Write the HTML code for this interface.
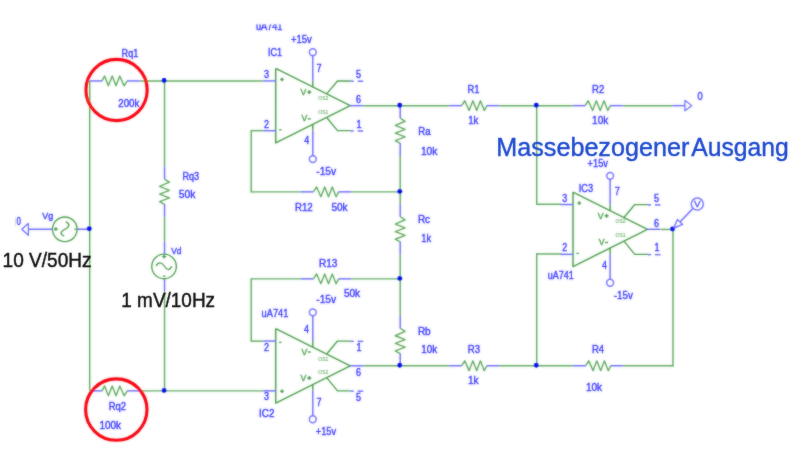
<!DOCTYPE html>
<html><head><meta charset="utf-8"><title>Schaltung</title>
<style>html,body{margin:0;padding:0;background:#fff}svg{display:block}</style></head>
<body>
<svg width="794" height="462" viewBox="0 0 794 462" font-family="Liberation Sans, Arial, sans-serif">
<rect width="794" height="462" fill="#fff"/>
<g filter="url(#bl)">
<g transform="translate(0.2,0.25)">
<line x1="89.5" y1="80.7" x2="89.5" y2="390.6" stroke="#5eaa5e" stroke-width="1.45"/>
<line x1="139.5" y1="80.7" x2="263" y2="80.7" stroke="#5eaa5e" stroke-width="1.45"/>
<line x1="139.5" y1="390.6" x2="263" y2="390.6" stroke="#5eaa5e" stroke-width="1.45"/>
<line x1="164.35" y1="80.7" x2="164.35" y2="166.4" stroke="#5eaa5e" stroke-width="1.45"/>
<line x1="164.35" y1="216.4" x2="164.35" y2="241.6" stroke="#5eaa5e" stroke-width="1.45"/>
<line x1="164.35" y1="291" x2="164.35" y2="390.6" stroke="#5eaa5e" stroke-width="1.45"/>
<line x1="251" y1="130.4" x2="263" y2="130.4" stroke="#5eaa5e" stroke-width="1.45"/>
<line x1="251" y1="129.70000000000002" x2="251" y2="192.29999999999998" stroke="#5eaa5e" stroke-width="1.45"/>
<line x1="251" y1="191.6" x2="300.8" y2="191.6" stroke="#5eaa5e" stroke-width="1.45"/>
<line x1="350.8" y1="191.6" x2="400" y2="191.6" stroke="#5eaa5e" stroke-width="1.45"/>
<line x1="251" y1="340.9" x2="263" y2="340.9" stroke="#5eaa5e" stroke-width="1.45"/>
<line x1="251" y1="277.90000000000003" x2="251" y2="341.59999999999997" stroke="#5eaa5e" stroke-width="1.45"/>
<line x1="251" y1="278.6" x2="300.8" y2="278.6" stroke="#5eaa5e" stroke-width="1.45"/>
<line x1="350.8" y1="278.6" x2="400" y2="278.6" stroke="#5eaa5e" stroke-width="1.45"/>
<line x1="363" y1="105.4" x2="449" y2="105.4" stroke="#5eaa5e" stroke-width="1.45"/>
<line x1="499" y1="105.4" x2="572.5" y2="105.4" stroke="#5eaa5e" stroke-width="1.45"/>
<line x1="622.5" y1="105.4" x2="672" y2="105.4" stroke="#5eaa5e" stroke-width="1.45"/>
<line x1="363" y1="365.5" x2="449" y2="365.5" stroke="#5eaa5e" stroke-width="1.45"/>
<line x1="499" y1="365.5" x2="573" y2="365.5" stroke="#5eaa5e" stroke-width="1.45"/>
<line x1="623" y1="365.5" x2="673.2" y2="365.5" stroke="#5eaa5e" stroke-width="1.45"/>
<line x1="400" y1="155" x2="400" y2="204" stroke="#5eaa5e" stroke-width="1.45"/>
<line x1="400" y1="254" x2="400" y2="315.6" stroke="#5eaa5e" stroke-width="1.45"/>
<line x1="536.5" y1="105.4" x2="536.5" y2="204.7" stroke="#5eaa5e" stroke-width="1.45"/>
<line x1="536.5" y1="204" x2="561" y2="204" stroke="#5eaa5e" stroke-width="1.45"/>
<line x1="536.5" y1="253.0" x2="536.5" y2="365.5" stroke="#5eaa5e" stroke-width="1.45"/>
<line x1="536.5" y1="253.7" x2="561" y2="253.7" stroke="#5eaa5e" stroke-width="1.45"/>
<line x1="660.7" y1="229.2" x2="672.6" y2="229.2" stroke="#5eaa5e" stroke-width="1.45"/>
<line x1="672.8" y1="229.2" x2="672.8" y2="366.2" stroke="#5eaa5e" stroke-width="1.45"/>
<line x1="89.5" y1="80.7" x2="102.1" y2="80.7" stroke="#6a6aff" stroke-width="1.45"/>
<line x1="126.9" y1="80.7" x2="139.5" y2="80.7" stroke="#6a6aff" stroke-width="1.45"/>
<polyline points="101.8,80.7 104.4,75.8 108.2,85.6 112.0,75.8 115.8,85.6 119.6,75.8 123.9,85.6 127.1,80.7" stroke="#5eaa5e" stroke-width="1.4" fill="none" stroke-linejoin="round" />
<line x1="89.5" y1="390.6" x2="102.1" y2="390.6" stroke="#6a6aff" stroke-width="1.45"/>
<line x1="126.9" y1="390.6" x2="139.5" y2="390.6" stroke="#6a6aff" stroke-width="1.45"/>
<polyline points="101.8,390.6 104.4,385.7 108.2,395.5 112.0,385.7 115.8,395.5 119.6,385.7 123.9,395.5 127.1,390.6" stroke="#5eaa5e" stroke-width="1.4" fill="none" stroke-linejoin="round" />
<line x1="164.35" y1="166.4" x2="164.35" y2="179.0" stroke="#6a6aff" stroke-width="1.45"/>
<line x1="164.35" y1="203.8" x2="164.35" y2="216.4" stroke="#6a6aff" stroke-width="1.45"/>
<polyline points="164.3,178.8 169.2,181.9 159.4,186.2 169.2,190.1 159.4,193.8 169.2,197.7 159.4,201.4 164.3,204.1" stroke="#5eaa5e" stroke-width="1.4" fill="none" stroke-linejoin="round" />
<line x1="300.8" y1="191.6" x2="313.40000000000003" y2="191.6" stroke="#6a6aff" stroke-width="1.45"/>
<line x1="338.2" y1="191.6" x2="350.8" y2="191.6" stroke="#6a6aff" stroke-width="1.45"/>
<polyline points="313.2,191.6 316.4,186.7 320.7,196.5 324.5,186.7 328.3,196.5 332.1,186.7 335.9,196.5 338.5,191.6" stroke="#5eaa5e" stroke-width="1.4" fill="none" stroke-linejoin="round" />
<line x1="300.8" y1="278.6" x2="313.40000000000003" y2="278.6" stroke="#6a6aff" stroke-width="1.45"/>
<line x1="338.2" y1="278.6" x2="350.8" y2="278.6" stroke="#6a6aff" stroke-width="1.45"/>
<polyline points="313.2,278.6 316.4,273.7 320.7,283.5 324.5,273.7 328.3,283.5 332.1,273.7 335.9,283.5 338.5,278.6" stroke="#5eaa5e" stroke-width="1.4" fill="none" stroke-linejoin="round" />
<line x1="400" y1="105.4" x2="400" y2="118.0" stroke="#6a6aff" stroke-width="1.45"/>
<line x1="400" y1="142.8" x2="400" y2="155.4" stroke="#6a6aff" stroke-width="1.45"/>
<polyline points="400.0,117.8 404.9,121.0 395.1,125.2 404.9,129.1 395.1,132.8 404.9,136.7 395.1,140.4 400.0,143.1" stroke="#5eaa5e" stroke-width="1.4" fill="none" stroke-linejoin="round" />
<line x1="400" y1="204" x2="400" y2="216.6" stroke="#6a6aff" stroke-width="1.45"/>
<line x1="400" y1="241.4" x2="400" y2="254" stroke="#6a6aff" stroke-width="1.45"/>
<polyline points="400.0,216.3 404.9,219.5 395.1,223.8 404.9,227.7 395.1,231.4 404.9,235.2 395.1,239.0 400.0,241.7" stroke="#5eaa5e" stroke-width="1.4" fill="none" stroke-linejoin="round" />
<line x1="400" y1="315.6" x2="400" y2="328.20000000000005" stroke="#6a6aff" stroke-width="1.45"/>
<line x1="400" y1="353.0" x2="400" y2="365.6" stroke="#6a6aff" stroke-width="1.45"/>
<polyline points="400.0,328.0 404.9,331.2 395.1,335.5 404.9,339.3 395.1,343.1 404.9,346.9 395.1,350.7 400.0,353.3" stroke="#5eaa5e" stroke-width="1.4" fill="none" stroke-linejoin="round" />
<line x1="449" y1="105.4" x2="461.6" y2="105.4" stroke="#6a6aff" stroke-width="1.45"/>
<line x1="486.4" y1="105.4" x2="499" y2="105.4" stroke="#6a6aff" stroke-width="1.45"/>
<polyline points="461.4,105.4 464.6,100.5 468.9,110.3 472.7,100.5 476.5,110.3 480.2,100.5 484.1,110.3 486.7,105.4" stroke="#5eaa5e" stroke-width="1.4" fill="none" stroke-linejoin="round" />
<line x1="572.5" y1="105.4" x2="585.1" y2="105.4" stroke="#6a6aff" stroke-width="1.45"/>
<line x1="609.9" y1="105.4" x2="622.5" y2="105.4" stroke="#6a6aff" stroke-width="1.45"/>
<polyline points="584.9,105.4 588.1,100.5 592.4,110.3 596.1,100.5 600.0,110.3 603.8,100.5 607.6,110.3 610.1,105.4" stroke="#5eaa5e" stroke-width="1.4" fill="none" stroke-linejoin="round" />
<line x1="449" y1="365.5" x2="461.6" y2="365.5" stroke="#6a6aff" stroke-width="1.45"/>
<line x1="486.4" y1="365.5" x2="499" y2="365.5" stroke="#6a6aff" stroke-width="1.45"/>
<polyline points="461.4,365.5 464.6,360.6 468.9,370.4 472.7,360.6 476.5,370.4 480.2,360.6 484.1,370.4 486.7,365.5" stroke="#5eaa5e" stroke-width="1.4" fill="none" stroke-linejoin="round" />
<line x1="573" y1="365.5" x2="585.6" y2="365.5" stroke="#6a6aff" stroke-width="1.45"/>
<line x1="610.4" y1="365.5" x2="623" y2="365.5" stroke="#6a6aff" stroke-width="1.45"/>
<polyline points="585.4,365.5 588.6,360.6 592.9,370.4 596.6,360.6 600.5,370.4 604.2,360.6 608.1,370.4 610.6,365.5" stroke="#5eaa5e" stroke-width="1.4" fill="none" stroke-linejoin="round" />
<line x1="164.35" y1="241.6" x2="164.35" y2="254" stroke="#6a6aff" stroke-width="1.45"/>
<line x1="164.35" y1="278.4" x2="164.35" y2="291" stroke="#6a6aff" stroke-width="1.45"/>
<circle cx="163.85" cy="266.2" r="12.3" fill="none" stroke="#4c9e4c" stroke-width="1.35"/>
<path d="M156,265.6 C158,261.6 161.5,261.6 164.2,266 S169.5,270.5 171.5,266" fill="none" stroke="#4c9e4c" stroke-width="1.35"/>
<line x1="162.04999999999998" y1="256.4" x2="165.85" y2="256.4" stroke="#4c9e4c" stroke-width="1.4"/>
<line x1="163.95" y1="254.6" x2="163.95" y2="258.3" stroke="#4c9e4c" stroke-width="1.4"/>
<line x1="162.75" y1="275.9" x2="165.15" y2="275.9" stroke="#4c9e4c" stroke-width="1.3"/>
<line x1="28" y1="229" x2="52" y2="229" stroke="#6a6aff" stroke-width="1.45"/>
<line x1="76.6" y1="229" x2="89.5" y2="229" stroke="#6a6aff" stroke-width="1.45"/>
<circle cx="64.6" cy="229" r="12.3" fill="none" stroke="#4c9e4c" stroke-width="1.35"/>
<path d="M65.6,221.3 C69.8,223.3 69.8,226.5 64.8,229 S59.5,234 64,236" fill="none" stroke="#4c9e4c" stroke-width="1.35"/>
<line x1="53.8" y1="228.8" x2="57.6" y2="228.8" stroke="#4c9e4c" stroke-width="1.4"/>
<line x1="55.7" y1="226.9" x2="55.7" y2="230.7" stroke="#4c9e4c" stroke-width="1.4"/>
<line x1="74.2" y1="228.9" x2="76.2" y2="228.9" stroke="#4c9e4c" stroke-width="1.3"/>
<polyline points="28.2,223.0 21.6,229.0 28.2,235.0 28.2,223.0" stroke="#6a6aff" stroke-width="1.2" fill="none" stroke-linejoin="round" />
<line x1="672" y1="105.4" x2="684.7" y2="105.4" stroke="#6a6aff" stroke-width="1.45"/>
<polyline points="684.7,100.0 691.5,105.4 684.7,110.6 684.7,100.0" stroke="#6a6aff" stroke-width="1.2" fill="none" stroke-linejoin="round" />
<polyline points="275.5,68.2 350.0,105.4 275.5,142.7 275.5,68.2" stroke="#4c9e4c" stroke-width="1.5" fill="none" stroke-linejoin="round" />
<line x1="263.0" y1="80.65" x2="275.5" y2="80.65" stroke="#6a6aff" stroke-width="1.45"/>
<line x1="263.0" y1="130.45" x2="275.5" y2="130.45" stroke="#6a6aff" stroke-width="1.45"/>
<line x1="350.0" y1="105.4" x2="363.0" y2="105.4" stroke="#6a6aff" stroke-width="1.45"/>
<line x1="312.6" y1="55.35000000000001" x2="312.6" y2="80.55000000000001" stroke="#6a6aff" stroke-width="1.45"/>
<line x1="312.6" y1="80.55000000000001" x2="312.6" y2="86.95" stroke="#4c9e4c" stroke-width="1.45"/>
<line x1="312.6" y1="130.25" x2="312.6" y2="155.45000000000002" stroke="#6a6aff" stroke-width="1.45"/>
<line x1="312.6" y1="123.85000000000001" x2="312.6" y2="130.25" stroke="#4c9e4c" stroke-width="1.45"/>
<circle cx="312.6" cy="51.95" r="3.4" fill="#fff" stroke="#6a6aff" stroke-width="1.5"/>
<circle cx="312.6" cy="158.85" r="3.4" fill="#fff" stroke="#6a6aff" stroke-width="1.5"/>
<polyline points="326.7,93.4 337.3,80.7 350.5,80.7" stroke="#4c9e4c" stroke-width="1.35" fill="none" stroke-linejoin="round" />
<polyline points="326.7,117.5 337.3,130.4 350.5,130.4" stroke="#4c9e4c" stroke-width="1.35" fill="none" stroke-linejoin="round" />
<line x1="350.5" y1="80.95" x2="353.5" y2="80.95" stroke="#6a6aff" stroke-width="1.5"/>
<line x1="357.5" y1="80.95" x2="363.0" y2="80.95" stroke="#6a6aff" stroke-width="1.5"/>
<line x1="350.5" y1="130.75" x2="353.5" y2="130.75" stroke="#6a6aff" stroke-width="1.5"/>
<line x1="357.5" y1="130.75" x2="363.0" y2="130.75" stroke="#6a6aff" stroke-width="1.5"/>
<polyline points="275.5,328.3 350.0,365.6 275.5,402.8 275.5,328.3" stroke="#4c9e4c" stroke-width="1.5" fill="none" stroke-linejoin="round" />
<line x1="263.0" y1="340.8" x2="275.5" y2="340.8" stroke="#6a6aff" stroke-width="1.45"/>
<line x1="263.0" y1="390.6" x2="275.5" y2="390.6" stroke="#6a6aff" stroke-width="1.45"/>
<line x1="350.0" y1="365.55" x2="363.0" y2="365.55" stroke="#6a6aff" stroke-width="1.45"/>
<line x1="312.6" y1="315.5" x2="312.6" y2="340.7" stroke="#6a6aff" stroke-width="1.45"/>
<line x1="312.6" y1="340.7" x2="312.6" y2="347.1" stroke="#4c9e4c" stroke-width="1.45"/>
<line x1="312.6" y1="390.40000000000003" x2="312.6" y2="415.6" stroke="#6a6aff" stroke-width="1.45"/>
<line x1="312.6" y1="384.0" x2="312.6" y2="390.40000000000003" stroke="#4c9e4c" stroke-width="1.45"/>
<circle cx="312.6" cy="312.1" r="3.4" fill="#fff" stroke="#6a6aff" stroke-width="1.5"/>
<circle cx="312.6" cy="419.0" r="3.4" fill="#fff" stroke="#6a6aff" stroke-width="1.5"/>
<polyline points="326.7,353.5 337.3,340.8 350.5,340.8" stroke="#4c9e4c" stroke-width="1.35" fill="none" stroke-linejoin="round" />
<polyline points="326.7,377.6 337.3,390.6 350.5,390.6" stroke="#4c9e4c" stroke-width="1.35" fill="none" stroke-linejoin="round" />
<line x1="350.5" y1="341.1" x2="353.5" y2="341.1" stroke="#6a6aff" stroke-width="1.5"/>
<line x1="357.5" y1="341.1" x2="363.0" y2="341.1" stroke="#6a6aff" stroke-width="1.5"/>
<line x1="350.5" y1="390.90000000000003" x2="353.5" y2="390.90000000000003" stroke="#6a6aff" stroke-width="1.5"/>
<line x1="357.5" y1="390.90000000000003" x2="363.0" y2="390.90000000000003" stroke="#6a6aff" stroke-width="1.5"/>
<polyline points="572.8,191.8 647.3,229.1 572.8,266.3 572.8,191.8" stroke="#4c9e4c" stroke-width="1.5" fill="none" stroke-linejoin="round" />
<line x1="560.3" y1="204.3" x2="572.8" y2="204.3" stroke="#6a6aff" stroke-width="1.45"/>
<line x1="560.3" y1="254.10000000000002" x2="572.8" y2="254.10000000000002" stroke="#6a6aff" stroke-width="1.45"/>
<line x1="647.3" y1="229.05" x2="660.3" y2="229.05" stroke="#6a6aff" stroke-width="1.45"/>
<line x1="609.9" y1="179.0" x2="609.9" y2="204.20000000000002" stroke="#6a6aff" stroke-width="1.45"/>
<line x1="609.9" y1="204.20000000000002" x2="609.9" y2="210.60000000000002" stroke="#4c9e4c" stroke-width="1.45"/>
<line x1="609.9" y1="253.9" x2="609.9" y2="279.1" stroke="#6a6aff" stroke-width="1.45"/>
<line x1="609.9" y1="247.5" x2="609.9" y2="253.9" stroke="#4c9e4c" stroke-width="1.45"/>
<circle cx="609.9" cy="175.60000000000002" r="3.4" fill="#fff" stroke="#6a6aff" stroke-width="1.5"/>
<circle cx="609.9" cy="282.5" r="3.4" fill="#fff" stroke="#6a6aff" stroke-width="1.5"/>
<polyline points="624.0,217.0 634.6,204.3 647.8,204.3" stroke="#4c9e4c" stroke-width="1.35" fill="none" stroke-linejoin="round" />
<polyline points="624.0,241.1 634.6,254.1 647.8,254.1" stroke="#4c9e4c" stroke-width="1.35" fill="none" stroke-linejoin="round" />
<line x1="647.8" y1="204.60000000000002" x2="650.8" y2="204.60000000000002" stroke="#6a6aff" stroke-width="1.5"/>
<line x1="654.8" y1="204.60000000000002" x2="660.3" y2="204.60000000000002" stroke="#6a6aff" stroke-width="1.5"/>
<line x1="647.8" y1="254.40000000000003" x2="650.8" y2="254.40000000000003" stroke="#6a6aff" stroke-width="1.5"/>
<line x1="654.8" y1="254.40000000000003" x2="660.3" y2="254.40000000000003" stroke="#6a6aff" stroke-width="1.5"/>
</g>
<circle cx="164.1" cy="80.5" r="2.45" fill="#0000e8"/>
<circle cx="164.1" cy="390.40000000000003" r="2.45" fill="#0000e8"/>
<circle cx="89.25" cy="228.8" r="2.45" fill="#0000e8"/>
<circle cx="399.75" cy="105.2" r="2.45" fill="#0000e8"/>
<circle cx="399.75" cy="191.4" r="2.45" fill="#0000e8"/>
<circle cx="399.75" cy="278.40000000000003" r="2.45" fill="#0000e8"/>
<circle cx="399.75" cy="365.3" r="2.45" fill="#0000e8"/>
<circle cx="536.25" cy="105.2" r="2.45" fill="#0000e8"/>
<circle cx="536.25" cy="365.3" r="2.45" fill="#0000e8"/>
<circle cx="672.55" cy="229.0" r="2.45" fill="#0000e8"/>
<line x1="680" y1="222" x2="693.1" y2="208.3" stroke="#6a6aff" stroke-width="1.5"/>
<polyline points="673.8,228.0 677.4,219.6 682.6,224.4 673.8,228.0" stroke="#6a6aff" stroke-width="1.4" fill="#fff" stroke-linejoin="round" />
<circle cx="697.3" cy="204" r="6" fill="#fff" stroke="#6a6aff" stroke-width="1.5"/>
<text x="697.3" y="207.3" font-size="8.2" fill="#3a3aff" stroke="#3a3aff" stroke-width="0.4" text-anchor="middle" textLength="6.6" lengthAdjust="spacingAndGlyphs" >V</text>
<circle cx="116.6" cy="90" r="30.6" fill="none" stroke="#f8060e" stroke-width="3.1"/>
<circle cx="116.3" cy="409.6" r="30.7" fill="none" stroke="#f8060e" stroke-width="3.1"/>
<text x="121.6" y="56.9" font-size="10.3" fill="#3a3aff" stroke="#3a3aff" stroke-width="0.4" text-anchor="start" textLength="16.8" lengthAdjust="spacingAndGlyphs" >Rq1</text>
<text x="118.3" y="106.8" font-size="10.3" fill="#3a3aff" stroke="#3a3aff" stroke-width="0.4" text-anchor="start" textLength="21.1" lengthAdjust="spacingAndGlyphs" >200k</text>
<text x="108.7" y="410.2" font-size="10.3" fill="#3a3aff" stroke="#3a3aff" stroke-width="0.4" text-anchor="start" textLength="17.4" lengthAdjust="spacingAndGlyphs" >Rq2</text>
<text x="99.4" y="428.9" font-size="10.3" fill="#3a3aff" stroke="#3a3aff" stroke-width="0.4" text-anchor="start" textLength="21.7" lengthAdjust="spacingAndGlyphs" >100k</text>
<text x="182.5" y="179.5" font-size="10.3" fill="#3a3aff" stroke="#3a3aff" stroke-width="0.4" text-anchor="start" textLength="16.6" lengthAdjust="spacingAndGlyphs" >Rq3</text>
<text x="178.7" y="198.4" font-size="10.3" fill="#3a3aff" stroke="#3a3aff" stroke-width="0.4" text-anchor="start" textLength="16.6" lengthAdjust="spacingAndGlyphs" >50k</text>
<text x="294.9" y="210.5" font-size="10.3" fill="#3a3aff" stroke="#3a3aff" stroke-width="0.4" text-anchor="start" textLength="17.8" lengthAdjust="spacingAndGlyphs" >R12</text>
<text x="331.4" y="210.5" font-size="10.3" fill="#3a3aff" stroke="#3a3aff" stroke-width="0.4" text-anchor="start" textLength="16.1" lengthAdjust="spacingAndGlyphs" >50k</text>
<text x="318.9" y="266.5" font-size="10.3" fill="#3a3aff" stroke="#3a3aff" stroke-width="0.4" text-anchor="start" textLength="18.5" lengthAdjust="spacingAndGlyphs" >R13</text>
<text x="343.9" y="296.7" font-size="10.3" fill="#3a3aff" stroke="#3a3aff" stroke-width="0.4" text-anchor="start" textLength="16.2" lengthAdjust="spacingAndGlyphs" >50k</text>
<text x="418.3" y="135.3" font-size="10.3" fill="#3a3aff" stroke="#3a3aff" stroke-width="0.4" text-anchor="start" textLength="12.3" lengthAdjust="spacingAndGlyphs" >Ra</text>
<text x="420.9" y="155.0" font-size="10.3" fill="#3a3aff" stroke="#3a3aff" stroke-width="0.4" text-anchor="start" textLength="16.5" lengthAdjust="spacingAndGlyphs" >10k</text>
<text x="417.9" y="222.7" font-size="10.3" fill="#3a3aff" stroke="#3a3aff" stroke-width="0.4" text-anchor="start" textLength="12.2" lengthAdjust="spacingAndGlyphs" >Rc</text>
<text x="421.2" y="241.5" font-size="10.3" fill="#3a3aff" stroke="#3a3aff" stroke-width="0.4" text-anchor="start" textLength="9.9" lengthAdjust="spacingAndGlyphs" >1k</text>
<text x="417.9" y="334.5" font-size="10.3" fill="#3a3aff" stroke="#3a3aff" stroke-width="0.4" text-anchor="start" textLength="12.8" lengthAdjust="spacingAndGlyphs" >Rb</text>
<text x="421.2" y="352.9" font-size="10.3" fill="#3a3aff" stroke="#3a3aff" stroke-width="0.4" text-anchor="start" textLength="15.9" lengthAdjust="spacingAndGlyphs" >10k</text>
<text x="467.4" y="92.5" font-size="10.3" fill="#3a3aff" stroke="#3a3aff" stroke-width="0.4" text-anchor="start" textLength="12.0" lengthAdjust="spacingAndGlyphs" >R1</text>
<text x="468.2" y="123.5" font-size="10.3" fill="#3a3aff" stroke="#3a3aff" stroke-width="0.4" text-anchor="start" textLength="10.2" lengthAdjust="spacingAndGlyphs" >1k</text>
<text x="592.0" y="92.7" font-size="10.3" fill="#3a3aff" stroke="#3a3aff" stroke-width="0.4" text-anchor="start" textLength="12.2" lengthAdjust="spacingAndGlyphs" >R2</text>
<text x="592.1" y="123.8" font-size="10.3" fill="#3a3aff" stroke="#3a3aff" stroke-width="0.4" text-anchor="start" textLength="16.1" lengthAdjust="spacingAndGlyphs" >10k</text>
<text x="467.8" y="352.5" font-size="10.3" fill="#3a3aff" stroke="#3a3aff" stroke-width="0.4" text-anchor="start" textLength="12.3" lengthAdjust="spacingAndGlyphs" >R3</text>
<text x="467.9" y="383.5" font-size="10.3" fill="#3a3aff" stroke="#3a3aff" stroke-width="0.4" text-anchor="start" textLength="10.7" lengthAdjust="spacingAndGlyphs" >1k</text>
<text x="591.9" y="352.5" font-size="10.3" fill="#3a3aff" stroke="#3a3aff" stroke-width="0.4" text-anchor="start" textLength="12.2" lengthAdjust="spacingAndGlyphs" >R4</text>
<text x="585.9" y="390.5" font-size="10.3" fill="#3a3aff" stroke="#3a3aff" stroke-width="0.4" text-anchor="start" textLength="16.2" lengthAdjust="spacingAndGlyphs" >10k</text>
<text x="290.9" y="42.8" font-size="10.3" fill="#3a3aff" stroke="#3a3aff" stroke-width="0.4" text-anchor="start" textLength="20.8" lengthAdjust="spacingAndGlyphs" >+15v</text>
<text x="267.9" y="55.5" font-size="10.3" fill="#3a3aff" stroke="#3a3aff" stroke-width="0.4" text-anchor="start" textLength="14.1" lengthAdjust="spacingAndGlyphs" >IC1</text>
<text x="316.3" y="174.5" font-size="10.3" fill="#3a3aff" stroke="#3a3aff" stroke-width="0.4" text-anchor="start" textLength="19.8" lengthAdjust="spacingAndGlyphs" >-15v</text>
<text x="261.6" y="316.9" font-size="10.3" fill="#3a3aff" stroke="#3a3aff" stroke-width="0.4" text-anchor="start" textLength="26.7" lengthAdjust="spacingAndGlyphs" >uA741</text>
<text x="316.3" y="303.0" font-size="10.3" fill="#3a3aff" stroke="#3a3aff" stroke-width="0.4" text-anchor="start" textLength="19.8" lengthAdjust="spacingAndGlyphs" >-15v</text>
<text x="259.1" y="417.0" font-size="10.3" fill="#3a3aff" stroke="#3a3aff" stroke-width="0.4" text-anchor="start" textLength="15.3" lengthAdjust="spacingAndGlyphs" >IC2</text>
<text x="315.8" y="435.2" font-size="10.3" fill="#3a3aff" stroke="#3a3aff" stroke-width="0.4" text-anchor="start" textLength="20.3" lengthAdjust="spacingAndGlyphs" >+15v</text>
<text x="587.6" y="166.7" font-size="10.3" fill="#3a3aff" stroke="#3a3aff" stroke-width="0.4" text-anchor="start" textLength="20.4" lengthAdjust="spacingAndGlyphs" >+15v</text>
<text x="578.8" y="191.5" font-size="10.3" fill="#3a3aff" stroke="#3a3aff" stroke-width="0.4" text-anchor="start" textLength="14.3" lengthAdjust="spacingAndGlyphs" >IC3</text>
<text x="547.8" y="278.5" font-size="10.3" fill="#3a3aff" stroke="#3a3aff" stroke-width="0.4" text-anchor="start" textLength="26.1" lengthAdjust="spacingAndGlyphs" >uA741</text>
<text x="613.8" y="298.7" font-size="10.3" fill="#3a3aff" stroke="#3a3aff" stroke-width="0.4" text-anchor="start" textLength="19.0" lengthAdjust="spacingAndGlyphs" >-15v</text>
<text x="171.2" y="253.9" font-size="9.3" fill="#3a3aff" stroke="#3a3aff" stroke-width="0.4" text-anchor="start" textLength="10.3" lengthAdjust="spacingAndGlyphs" >Vd</text>
<text x="42.2" y="219.4" font-size="9.3" fill="#3a3aff" stroke="#3a3aff" stroke-width="0.4" text-anchor="start" textLength="10.9" lengthAdjust="spacingAndGlyphs" >Vg</text>
<text x="16.6" y="224.5" font-size="10" fill="#3a3aff" stroke="#3a3aff" stroke-width="0.4" text-anchor="start" textLength="4.4" lengthAdjust="spacingAndGlyphs" >0</text>
<text x="697.5" y="99.7" font-size="10.3" fill="#3a3aff" stroke="#3a3aff" stroke-width="0.4" text-anchor="start" textLength="5.2" lengthAdjust="spacingAndGlyphs" >0</text>
<line x1="15.8" y1="217.2" x2="15.3" y2="226.3" stroke="#d2d2d2" stroke-width="0.8"/>
<clipPath id="cut"><rect x="250" y="24.6" width="40" height="10"/></clipPath>
<text x="255.9" y="30.1" font-size="10.3" fill="#3a3aff" stroke="#3a3aff" stroke-width="0.4" text-anchor="start" textLength="26.6" lengthAdjust="spacingAndGlyphs" clip-path="url(#cut)">uA741</text>
<text x="264" y="78.2" font-size="10.0" fill="#3a3aff" stroke="#3a3aff" stroke-width="0.4" text-anchor="start" textLength="5.0" lengthAdjust="spacingAndGlyphs" >3</text>
<text x="264" y="127.9" font-size="10.0" fill="#3a3aff" stroke="#3a3aff" stroke-width="0.4" text-anchor="start" textLength="5.0" lengthAdjust="spacingAndGlyphs" >2</text>
<text x="316.6" y="72.4" font-size="10.0" fill="#3a3aff" stroke="#3a3aff" stroke-width="0.4" text-anchor="start" textLength="5.0" lengthAdjust="spacingAndGlyphs" >7</text>
<text x="304.3" y="144.3" font-size="10.0" fill="#3a3aff" stroke="#3a3aff" stroke-width="0.4" text-anchor="start" textLength="5.0" lengthAdjust="spacingAndGlyphs" >4</text>
<text x="356" y="77.9" font-size="10.0" fill="#3a3aff" stroke="#3a3aff" stroke-width="0.4" text-anchor="start" textLength="5.0" lengthAdjust="spacingAndGlyphs" >5</text>
<text x="356" y="102.6" font-size="10.0" fill="#3a3aff" stroke="#3a3aff" stroke-width="0.4" text-anchor="start" textLength="5.0" lengthAdjust="spacingAndGlyphs" >6</text>
<text x="356.6" y="127.9" font-size="10.0" fill="#3a3aff" stroke="#3a3aff" stroke-width="0.4" text-anchor="start" textLength="5.0" lengthAdjust="spacingAndGlyphs" >1</text>
<text x="304" y="332.9" font-size="10.0" fill="#3a3aff" stroke="#3a3aff" stroke-width="0.4" text-anchor="start" textLength="5.0" lengthAdjust="spacingAndGlyphs" >4</text>
<text x="264" y="351.1" font-size="10.0" fill="#3a3aff" stroke="#3a3aff" stroke-width="0.4" text-anchor="start" textLength="5.0" lengthAdjust="spacingAndGlyphs" >2</text>
<text x="264" y="400.2" font-size="10.0" fill="#3a3aff" stroke="#3a3aff" stroke-width="0.4" text-anchor="start" textLength="5.0" lengthAdjust="spacingAndGlyphs" >3</text>
<text x="356.6" y="351.0" font-size="10.0" fill="#3a3aff" stroke="#3a3aff" stroke-width="0.4" text-anchor="start" textLength="5.0" lengthAdjust="spacingAndGlyphs" >1</text>
<text x="356" y="375.5" font-size="10.0" fill="#3a3aff" stroke="#3a3aff" stroke-width="0.4" text-anchor="start" textLength="5.0" lengthAdjust="spacingAndGlyphs" >6</text>
<text x="356" y="400.8" font-size="10.0" fill="#3a3aff" stroke="#3a3aff" stroke-width="0.4" text-anchor="start" textLength="5.0" lengthAdjust="spacingAndGlyphs" >5</text>
<text x="316.6" y="406.3" font-size="10.0" fill="#3a3aff" stroke="#3a3aff" stroke-width="0.4" text-anchor="start" textLength="5.0" lengthAdjust="spacingAndGlyphs" >7</text>
<text x="562.2" y="201.6" font-size="10.0" fill="#3a3aff" stroke="#3a3aff" stroke-width="0.4" text-anchor="start" textLength="5.0" lengthAdjust="spacingAndGlyphs" >3</text>
<text x="562.2" y="251.0" font-size="10.0" fill="#3a3aff" stroke="#3a3aff" stroke-width="0.4" text-anchor="start" textLength="5.0" lengthAdjust="spacingAndGlyphs" >2</text>
<text x="614.8" y="195.2" font-size="10.0" fill="#3a3aff" stroke="#3a3aff" stroke-width="0.4" text-anchor="start" textLength="5.0" lengthAdjust="spacingAndGlyphs" >7</text>
<text x="602" y="269.1" font-size="10.0" fill="#3a3aff" stroke="#3a3aff" stroke-width="0.4" text-anchor="start" textLength="5.0" lengthAdjust="spacingAndGlyphs" >4</text>
<text x="654" y="201.6" font-size="10.0" fill="#3a3aff" stroke="#3a3aff" stroke-width="0.4" text-anchor="start" textLength="5.0" lengthAdjust="spacingAndGlyphs" >5</text>
<text x="654" y="226.9" font-size="10.0" fill="#3a3aff" stroke="#3a3aff" stroke-width="0.4" text-anchor="start" textLength="5.0" lengthAdjust="spacingAndGlyphs" >6</text>
<text x="654.6" y="251.0" font-size="10.0" fill="#3a3aff" stroke="#3a3aff" stroke-width="0.4" text-anchor="start" textLength="5.0" lengthAdjust="spacingAndGlyphs" >1</text>
<text x="300.5" y="95.45" font-size="9.4" fill="#4c9e4c" stroke="#4c9e4c" stroke-width="0.4" textLength="5.8" lengthAdjust="spacingAndGlyphs">V</text>
<line x1="307.3" y1="92.15" x2="311.3" y2="92.15" stroke="#4c9e4c" stroke-width="1.5"/>
<line x1="309.3" y1="90.15" x2="309.3" y2="94.15" stroke="#4c9e4c" stroke-width="1.5"/>
<text x="301.5" y="121.35000000000001" font-size="9.4" fill="#4c9e4c" stroke="#4c9e4c" stroke-width="0.4" textLength="5.8" lengthAdjust="spacingAndGlyphs">V</text>
<line x1="307.9" y1="118.85000000000001" x2="310.7" y2="118.85000000000001" stroke="#4c9e4c" stroke-width="1.5"/>
<g opacity="0.85">
<text x="318.3" y="99.8" font-size="4.6" fill="#4c9e4c" stroke="#4c9e4c" stroke-width="0.1" text-anchor="start" textLength="9.9" lengthAdjust="spacingAndGlyphs" >OS2</text>
<text x="318.3" y="113.7" font-size="4.6" fill="#4c9e4c" stroke="#4c9e4c" stroke-width="0.1" text-anchor="start" textLength="9.9" lengthAdjust="spacingAndGlyphs" >OS1</text>
</g>
<line x1="280.2" y1="79.45" x2="283.8" y2="79.45" stroke="#4c9e4c" stroke-width="1.5"/>
<line x1="282.0" y1="77.65" x2="282.0" y2="81.25" stroke="#4c9e4c" stroke-width="1.5"/>
<line x1="279.1" y1="129.75" x2="281.5" y2="129.75" stroke="#4c9e4c" stroke-width="1.4"/>
<text x="300.5" y="381.3" font-size="9.4" fill="#4c9e4c" stroke="#4c9e4c" stroke-width="0.4" textLength="5.8" lengthAdjust="spacingAndGlyphs">V</text>
<line x1="307.3" y1="378.0" x2="311.3" y2="378.0" stroke="#4c9e4c" stroke-width="1.5"/>
<line x1="309.3" y1="376.0" x2="309.3" y2="380.0" stroke="#4c9e4c" stroke-width="1.5"/>
<text x="301.5" y="354.5" font-size="9.4" fill="#4c9e4c" stroke="#4c9e4c" stroke-width="0.4" textLength="5.8" lengthAdjust="spacingAndGlyphs">V</text>
<line x1="307.9" y1="352.0" x2="310.7" y2="352.0" stroke="#4c9e4c" stroke-width="1.5"/>
<g opacity="0.85">
<text x="318.3" y="374.1" font-size="4.6" fill="#4c9e4c" stroke="#4c9e4c" stroke-width="0.1" text-anchor="start" textLength="9.9" lengthAdjust="spacingAndGlyphs" >OS2</text>
<text x="318.3" y="360.6" font-size="4.6" fill="#4c9e4c" stroke="#4c9e4c" stroke-width="0.1" text-anchor="start" textLength="9.9" lengthAdjust="spacingAndGlyphs" >OS1</text>
</g>
<line x1="280.2" y1="391.2" x2="283.8" y2="391.2" stroke="#4c9e4c" stroke-width="1.5"/>
<line x1="282.0" y1="389.4" x2="282.0" y2="393.0" stroke="#4c9e4c" stroke-width="1.5"/>
<line x1="279.1" y1="342.4" x2="281.5" y2="342.4" stroke="#4c9e4c" stroke-width="1.4"/>
<text x="597.8" y="219.10000000000002" font-size="9.4" fill="#4c9e4c" stroke="#4c9e4c" stroke-width="0.4" textLength="5.8" lengthAdjust="spacingAndGlyphs">V</text>
<line x1="604.5999999999999" y1="215.8" x2="608.5999999999999" y2="215.8" stroke="#4c9e4c" stroke-width="1.5"/>
<line x1="606.5999999999999" y1="213.8" x2="606.5999999999999" y2="217.8" stroke="#4c9e4c" stroke-width="1.5"/>
<text x="598.8" y="245.0" font-size="9.4" fill="#4c9e4c" stroke="#4c9e4c" stroke-width="0.4" textLength="5.8" lengthAdjust="spacingAndGlyphs">V</text>
<line x1="605.1999999999999" y1="242.5" x2="608.0" y2="242.5" stroke="#4c9e4c" stroke-width="1.5"/>
<g opacity="0.85">
<text x="615.5999999999999" y="223.4" font-size="4.6" fill="#4c9e4c" stroke="#4c9e4c" stroke-width="0.1" text-anchor="start" textLength="9.9" lengthAdjust="spacingAndGlyphs" >OS2</text>
<text x="615.5999999999999" y="237.3" font-size="4.6" fill="#4c9e4c" stroke="#4c9e4c" stroke-width="0.1" text-anchor="start" textLength="9.9" lengthAdjust="spacingAndGlyphs" >OS1</text>
</g>
<line x1="577.5" y1="203.10000000000002" x2="581.0999999999999" y2="203.10000000000002" stroke="#4c9e4c" stroke-width="1.5"/>
<line x1="579.3" y1="201.3" x2="579.3" y2="204.90000000000003" stroke="#4c9e4c" stroke-width="1.5"/>
<line x1="576.4" y1="253.40000000000003" x2="578.8" y2="253.40000000000003" stroke="#4c9e4c" stroke-width="1.4"/>
</g>
<g filter="url(#bl2)">
<text x="2.6" y="266.6" font-size="20.1" fill="#101010" stroke="#101010" stroke-width="0.45" text-anchor="start" textLength="89" lengthAdjust="spacingAndGlyphs" >10 V/50Hz</text>
<text x="121.3" y="306.6" font-size="20.1" fill="#101010" stroke="#101010" stroke-width="0.45" text-anchor="start" textLength="93.8" lengthAdjust="spacingAndGlyphs" >1 mV/10Hz</text>
<text x="496.3" y="156.0" font-size="25.4" fill="#1c48d0" stroke="#1c48d0" stroke-width="0.4" text-anchor="start" textLength="193" lengthAdjust="spacingAndGlyphs" >Massebezogener</text>
<text x="691.3" y="156.0" font-size="25.4" fill="#1c48d0" stroke="#1c48d0" stroke-width="0.4" text-anchor="start" textLength="97.5" lengthAdjust="spacingAndGlyphs" >Ausgang</text>
</g>
<defs><filter id="bl" x="0" y="0" width="794" height="462" filterUnits="userSpaceOnUse"><feGaussianBlur stdDeviation="0.8" result="b"/><feComposite in="SourceGraphic" in2="b" operator="arithmetic" k1="0" k2="0.5" k3="0.5" k4="0"/></filter><filter id="bl2" x="0" y="0" width="794" height="462" filterUnits="userSpaceOnUse"><feGaussianBlur stdDeviation="0.8" result="b"/><feComposite in="SourceGraphic" in2="b" operator="arithmetic" k1="0" k2="0.75" k3="0.25" k4="0"/></filter></defs>
</svg>
</body></html>
